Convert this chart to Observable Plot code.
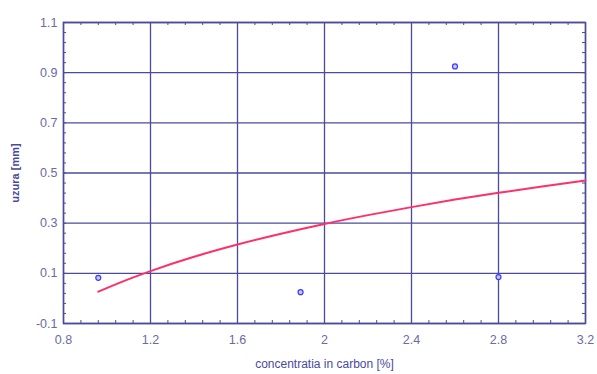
<!DOCTYPE html>
<html>
<head>
<meta charset="utf-8">
<script src="https://cdn.jsdelivr.net/npm/d3@7"></script>
<script src="https://cdn.jsdelivr.net/npm/@observablehq/plot@0.6"></script>
<style>
  html, body { margin: 0; padding: 0; background: #fff; }
  #chart svg { display: block; }
</style>
</head>
<body>
<div id="chart"></div>
<script>
// Measured wear (mm) against carbon concentration (%)
const carbon = [0.96, 1.89, 2.60, 2.80];
const wear = [0.082, 0.025, 0.925, 0.085];

// Trend curve samples
const curveX = [0.96, 1.1, 1.2, 1.4, 1.6, 1.8, 2.0, 2.2, 2.4, 2.6, 2.8, 3.0, 3.2];
const curveY = [0.027, 0.077, 0.109, 0.166, 0.215, 0.258, 0.297, 0.332, 0.364, 0.394, 0.421, 0.446, 0.470];

const xTicks = [0.8, 1.2, 1.6, 2, 2.4, 2.8, 3.2];
const yTicks = [-0.1, 0.1, 0.3, 0.5, 0.7, 0.9, 1.1];
const xMinor = d3.range(0, 31).map(i => +(0.8 + i * 0.08).toFixed(2));
const yMinor = d3.range(0, 31).map(i => +(-0.1 + i * 0.04).toFixed(2));

const points = carbon.map((c, i) => ({c, w: wear[i]}));
const curve = curveX.map((x, i) => ({x, y: curveY[i]}));

const grid = "#4b4b9c";
const textCol = "#6b6ba2";

const chart = Plot.plot({
  width: 597,
  height: 374,
  marginLeft: 63,
  marginRight: 12,
  marginTop: 22,
  marginBottom: 51,
  style: {fontFamily: "Liberation Sans, Arial, sans-serif", fontSize: "12.5px", color: textCol, background: "#fff"},
  x: {type: "linear", domain: [0.8, 3.2], ticks: xTicks, tickFormat: d => String(d), tickSize: 0, tickPadding: 12,
      label: "concentratia in carbon [%]", labelAnchor: "center", labelArrow: "none", labelOffset: 44},
  y: {type: "linear", domain: [-0.1, 1.1], ticks: yTicks, tickFormat: d => String(d), tickSize: 0, tickPadding: 6,
      label: "uzura [mm]", labelAnchor: "center", labelArrow: "none", labelOffset: 52},
  marks: [
    Plot.gridX(xTicks, {stroke: grid, strokeOpacity: 1, strokeWidth: 1.3}),
    Plot.gridY(yTicks, {stroke: grid, strokeOpacity: 1, strokeWidth: 1.3}),
    // small inward ticks along the frame
    Plot.ruleX(xMinor, {y1: -0.1, y2: -0.088, stroke: grid, strokeWidth: 1}),
    Plot.ruleX(xMinor, {y1: 1.1, y2: 1.088, stroke: grid, strokeWidth: 1}),
    Plot.ruleY(yMinor, {x1: 0.8, x2: 0.814, stroke: grid, strokeWidth: 1}),
    Plot.ruleY(yMinor, {x1: 3.2, x2: 3.186, stroke: grid, strokeWidth: 1}),
    Plot.frame({stroke: grid, strokeWidth: 1.5}),
    Plot.line(curve, {x: "x", y: "y", curve: "monotone-x", stroke: "#ff2f6a", strokeWidth: 2}),
    Plot.dot(points, {x: "c", y: "w", r: 2.5, stroke: "#3a3aff", strokeWidth: 1.2, fill: "#c8c8ff"})
  ]
});

// Axis titles: smaller and darker than the tick labels
d3.select(chart).selectAll("[aria-label='x-axis label'] text")
  .style("font-size", "12px").style("fill", "#4a4a9a");
d3.select(chart).selectAll("[aria-label='y-axis label'] text")
  .style("font-size", "11px").style("font-weight", "bold").style("fill", "#4a4a9a");

document.getElementById("chart").appendChild(chart);
</script>
</body>
</html>
